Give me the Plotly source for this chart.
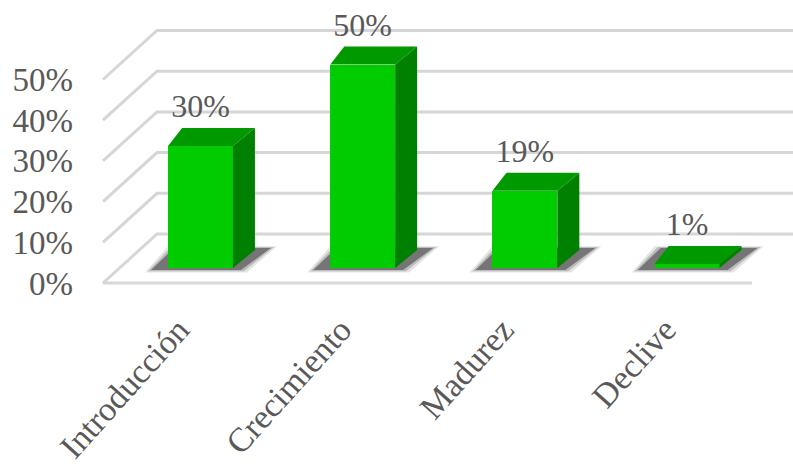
import plotly.graph_objects as go

# ---- data ----
categories = ["Introducción", "Crecimiento", "Madurez", "Declive"]
values = [30, 50, 19, 1]
tick_values = [0, 10, 20, 30, 40, 50]
tick_labels = ["0%", "10%", "20%", "30%", "40%", "50%"]
value_labels = ["30%", "50%", "19%", "1%"]

# ---- style / geometry (pixel based, converted to data units) ----
W, H = 793, 469
SX = 162.2      # px per category unit
X0 = 200.5      # px of category 0
SY = 4.07       # px per percent
Y0 = 268.0      # px of 0% on the bar plane
BAR_W = 0.40

FRONT = "#00CC00"
TOP = "#009A00"
SIDE = "#008000"
GRID = "#D6D6D6"
TXT = "#595959"
FONT = "Liberation Serif"


def dx(px):
    return px / SX


def dy(px):
    return px / SY


def xpx(p):
    return (p - X0) / SX


xs = list(range(len(categories)))

fig = go.Figure()

# ---- gridlines (left wall + back wall) as shapes below traces ----
shapes = []
xl_front = xpx(103)
xl_back = xpx(157)
x_right = xpx(810)
for v in tick_values:
    yf = v + dy(-15)
    yb = v + dy(34)
    path = f"M {xl_front},{yf} L {xl_back},{yb} L {x_right},{yb}"
    shapes.append(dict(type="path", path=path, xref="x", yref="y", layer="below",
                       line=dict(color=GRID, width=3)))
# floor front edge
shapes.append(dict(type="path",
                   path=f"M {xl_front},{dy(-15)} L {xpx(752)},{dy(-15)}",
                   xref="x", yref="y", layer="below",
                   line=dict(color=GRID, width=3)))

# ---- shadows ----
for x, v in zip(xs, values):
    L = x - BAR_W / 2
    R = x + BAR_W / 2
    for grow, alpha in [(6, 0.12), (3, 0.2), (0, 0.45)]:
        pts = [
            (L - dx(17 + grow), dy(-2 - grow * 0.4)),
            (R + dx(8 + grow), dy(-2 - grow * 0.4)),
            (R + dx(38 + grow), dy(20 + grow * 0.3)),
            (L + dx(6 - grow), dy(20 + grow * 0.3)),
        ]
        path = "M " + " L ".join(f"{a},{b}" for a, b in pts) + " Z"
        shapes.append(dict(type="path", path=path, xref="x", yref="y", layer="below",
                           fillcolor=f"rgba(30,30,30,{alpha})", line=dict(width=0)))

# ---- bar front faces ----
fig.add_trace(go.Bar(x=xs, y=values, width=BAR_W, marker=dict(color=FRONT, line=dict(width=0)),
                     hoverinfo="skip", showlegend=False))

# ---- top and side faces ----
for x, v in zip(xs, values):
    L = x - BAR_W / 2
    R = x + BAR_W / 2
    top_x = [L, R, R + dx(22), L + dx(14), L]
    top_y = [v, v, v + dy(18), v + dy(18), v]
    fig.add_trace(go.Scatter(x=top_x, y=top_y, fill="toself", fillcolor=TOP, mode="lines",
                             line=dict(width=0, color=TOP), hoverinfo="skip", showlegend=False))
    side_x = [R, R, R + dx(22), R + dx(22), R]
    side_y = [0, v, v + dy(18), dy(18), 0]
    fig.add_trace(go.Scatter(x=side_x, y=side_y, fill="toself", fillcolor=SIDE, mode="lines",
                             line=dict(width=0, color=SIDE), hoverinfo="skip", showlegend=False))

# ---- data labels ----
fig.add_trace(go.Scatter(x=xs, y=[v + dy(18) + dy(19) for v in values], mode="text",
                         text=value_labels, textposition="middle center",
                         textfont=dict(family=FONT, size=32, color=TXT),
                         cliponaxis=False, hoverinfo="skip", showlegend=False))

# ---- invisible trace for the front-plane percent axis ----
fig.add_trace(go.Scatter(x=[None], y=[None], yaxis="y2", mode="markers",
                         showlegend=False, hoverinfo="skip"))

fig.update_layout(
    width=W, height=H,
    autosize=False,
    margin=dict(l=0, r=0, t=0, b=0, pad=0, autoexpand=False),
    paper_bgcolor="white", plot_bgcolor="white",
    showlegend=False,
    shapes=shapes,
    bargap=0,
    xaxis=dict(range=[xpx(0), xpx(W)], tickvals=xs, ticktext=categories,
               tickangle=-48, anchor="free", position=1 - 302 / H, automargin=False,
               ticklabelshift=-22,
               showgrid=False, zeroline=False, showline=False, ticks="",
               tickfont=dict(family=FONT, size=34, color=TXT)),
    yaxis=dict(range=[(Y0 - H) / SY, Y0 / SY], showgrid=False, zeroline=False,
               automargin=False,
               showline=False, showticklabels=False, ticks=""),
    yaxis2=dict(range=[(283 - H) / SY, 283 / SY], overlaying="y", anchor="free",
                position=73 / W, side="left", automargin=False,
                tickvals=tick_values, ticktext=tick_labels,
                showgrid=False, zeroline=False, showline=False, ticks="",
                tickfont=dict(family=FONT, size=33, color=TXT)),
)

fig.write_html("out.html")
